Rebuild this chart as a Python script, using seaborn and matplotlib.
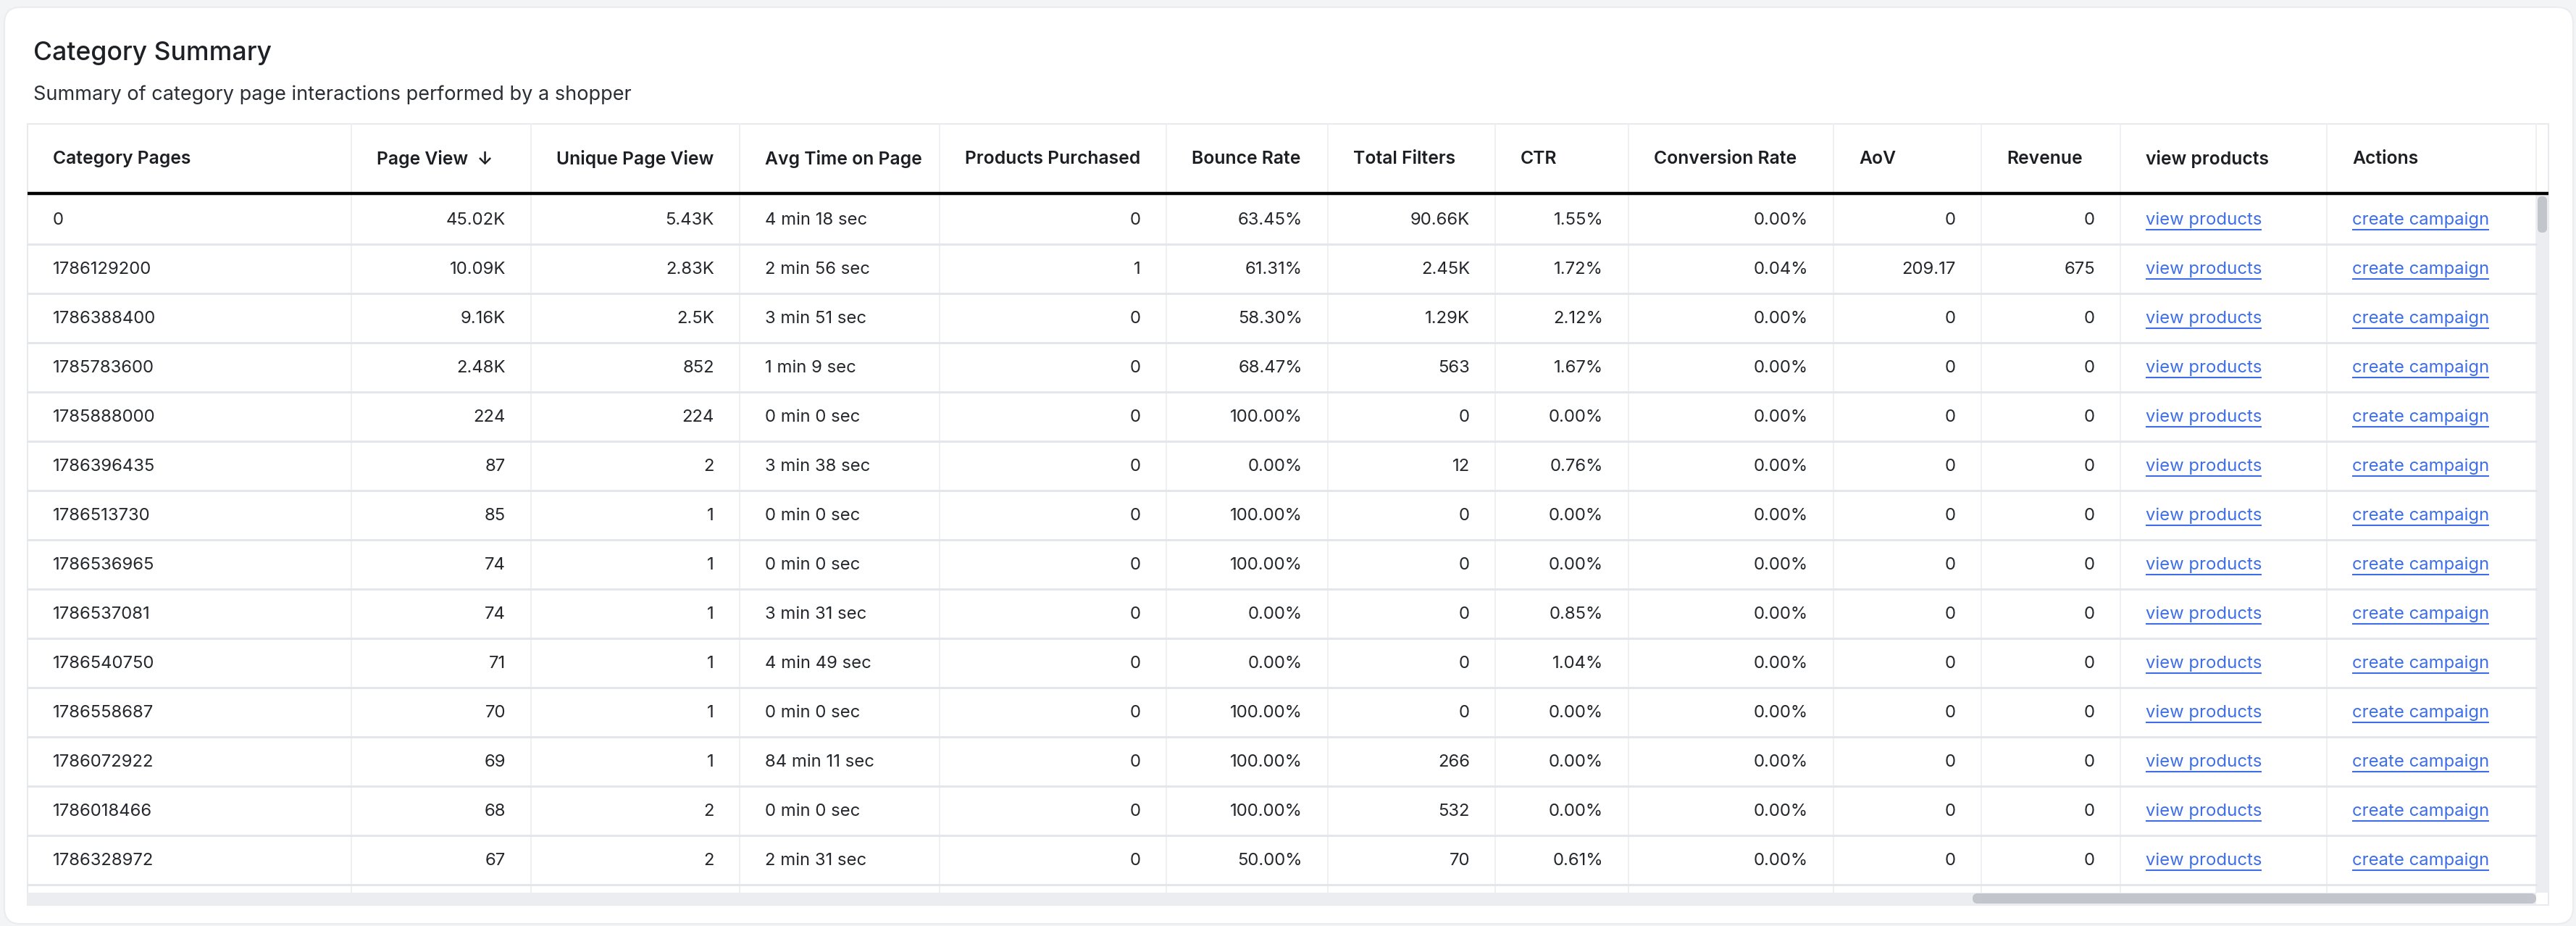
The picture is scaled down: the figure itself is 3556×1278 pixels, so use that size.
import matplotlib
matplotlib.use("Agg")
import matplotlib.pyplot as plt
from matplotlib.patches import FancyBboxPatch, Rectangle
import seaborn as sns

# ---------------- data ----------------
category_pages = ["0", "1786129200", "1786388400", "1785783600", "1785888000",
                  "1786396435", "1786513730", "1786536965", "1786537081", "1786540750",
                  "1786558687", "1786072922", "1786018466", "1786328972"]
page_view = [45020, 10090, 9160, 2480, 224, 87, 85, 74, 74, 71, 70, 69, 68, 67]
unique_page_view = [5430, 2830, 2500, 852, 224, 2, 1, 1, 1, 1, 1, 1, 2, 2]
avg_time_sec = [258, 176, 231, 69, 0, 218, 0, 0, 211, 289, 0, 5051, 0, 151]
products_purchased = [0, 1, 0, 0, 0, 0, 0, 0, 0, 0, 0, 0, 0, 0]
bounce_rate = [63.45, 61.31, 58.30, 68.47, 100.0, 0.0, 100.0, 100.0, 0.0, 0.0, 100.0, 100.0, 100.0, 50.0]
total_filters = [90660, 2450, 1290, 563, 0, 12, 0, 0, 0, 0, 0, 266, 532, 70]
ctr = [1.55, 1.72, 2.12, 1.67, 0.0, 0.76, 0.0, 0.0, 0.85, 1.04, 0.0, 0.0, 0.0, 0.61]
conversion_rate = [0.0, 0.04, 0.0, 0.0, 0.0, 0.0, 0.0, 0.0, 0.0, 0.0, 0.0, 0.0, 0.0, 0.0]
aov = [0, 209.17, 0, 0, 0, 0, 0, 0, 0, 0, 0, 0, 0, 0]
revenue = [0, 675, 0, 0, 0, 0, 0, 0, 0, 0, 0, 0, 0, 0]
headers = ["Category Pages", "Page View  \u2193", "Unique Page View", "Avg Time on Page",
           "Products Purchased", "Bounce Rate", "Total Filters", "CTR", "Conversion Rate",
           "AoV", "Revenue", "view products", "Actions"]
link_view = "view products"
link_action = "create campaign"
title = "Category Summary"
subtitle = "Summary of category page interactions performed by a shopper"


def fmt_k(v):
    if v >= 1000:
        s = f"{v / 1000:.2f}".rstrip("0").rstrip(".")
        return s + "K"
    return f"{v:g}"


def fmt_pct(v):
    return f"{v:.2f}%"


def fmt_time(s):
    return f"{s // 60} min {s % 60} sec"


def fmt_num(v):
    return f"{v:g}"


columns = [
    ([str(c) for c in category_pages], "left", "text"),
    ([fmt_k(v) for v in page_view], "right", "text"),
    ([fmt_k(v) for v in unique_page_view], "right", "text"),
    ([fmt_time(v) for v in avg_time_sec], "left", "text"),
    ([fmt_num(v) for v in products_purchased], "right", "text"),
    ([fmt_pct(v) for v in bounce_rate], "right", "text"),
    ([fmt_k(v) for v in total_filters], "right", "text"),
    ([fmt_pct(v) for v in ctr], "right", "text"),
    ([fmt_pct(v) for v in conversion_rate], "right", "text"),
    ([fmt_num(v) for v in aov], "right", "text"),
    ([fmt_num(v) for v in revenue], "right", "text"),
    ([link_view] * len(category_pages), "left", "link"),
    ([link_action] * len(category_pages), "left", "link"),
]

# ---------------- layout / style ----------------
W, H = 3556, 1278
col_edges = [38, 485, 733, 1021, 1297, 1610, 1833, 2064, 2248, 2531, 2735, 2927, 3212, 3501]
table_right = 3518
table_top = 171
header_bottom = 266
row_top0 = 269
row_h = 68
body_bottom = 1232
hscroll_bottom = 1249
pad = 35

sns.set_theme(style="white")
FONT = ["Inter", "DejaVu Sans"]
plt.rcParams["font.family"] = FONT

TEXT = "#24272c"
HEAD = "#1b1e22"
LINK = "#3d6ee8"
GRID_ROW = "#e3e6eb"
GRID_COL = "#eceef2"
BODY_FS = 17.2
HEAD_FS = 17.8

fig = plt.figure(figsize=(W / 100, H / 100), dpi=100, facecolor="#f3f4f6")
ax = fig.add_axes([0, 0, 1, 1])
ax.set_xlim(0, W)
ax.set_ylim(H, 0)
ax.axis("off")

# card
ax.add_patch(FancyBboxPatch((6, 10), 3546, 1265, boxstyle="round,pad=0,rounding_size=22",
                            facecolor="white", edgecolor="#eaecef", linewidth=1.5, zorder=0))

ax.text(46, 74, title, fontsize=25.6, color="#1d2025", va="center", ha="left", fontweight="medium")
ax.text(46, 131, subtitle, fontsize=19.5, color="#2b2f35", va="center", ha="left")

# table frame
ax.add_patch(Rectangle((col_edges[0], table_top), table_right - col_edges[0], hscroll_bottom - table_top,
                       facecolor="white", edgecolor="#e8eaee", linewidth=1.5, zorder=1))

# vertical scroll track
ax.add_patch(Rectangle((col_edges[-1], row_top0), table_right - col_edges[-1], body_bottom - row_top0,
                       facecolor="#ebedf0", edgecolor="none", zorder=2))
ax.add_patch(FancyBboxPatch((col_edges[-1] + 2, row_top0 + 2), table_right - col_edges[-1] - 4, 50,
                            boxstyle="round,pad=0,rounding_size=6",
                            facecolor="#c2c5cc", edgecolor="none", zorder=3))

# column separators
for x in col_edges[1:]:
    ax.plot([x, x], [table_top, body_bottom], color=GRID_COL, linewidth=1.2, zorder=2)

# row separators
n = len(category_pages)
for i in range(1, n + 1):
    y = row_top0 + i * row_h
    ax.plot([col_edges[0], col_edges[-1]], [y, y], color=GRID_ROW, linewidth=2.2, zorder=2)

# header thick line
ax.plot([col_edges[0], table_right], [header_bottom + 1, header_bottom + 1], color="black",
        linewidth=3.2, zorder=4, solid_capstyle="butt")

# horizontal scrollbar
ax.add_patch(Rectangle((col_edges[0], body_bottom), col_edges[-1] - col_edges[0], hscroll_bottom - body_bottom,
                       facecolor="#ebedf0", edgecolor="none", zorder=3))
ax.add_patch(FancyBboxPatch((2723, body_bottom + 1), col_edges[-1] - 2723, hscroll_bottom - body_bottom - 3,
                            boxstyle="round,pad=0,rounding_size=7",
                            facecolor="#c2c5cc", edgecolor="none", zorder=4))

# headers
header_y = (table_top + header_bottom) / 2 + 1
for j, h in enumerate(headers):
    ax.text(col_edges[j] + pad, header_y, h, fontsize=HEAD_FS, fontweight="semibold",
            color=HEAD, va="center", ha="left", zorder=5)

# body
link_texts = []
for j, (vals, align, kind) in enumerate(columns):
    for i, v in enumerate(vals):
        y = row_top0 + i * row_h + row_h / 2 + 0.5
        if align == "left":
            x, ha = col_edges[j] + pad, "left"
        else:
            x, ha = col_edges[j + 1] - pad, "right"
        color = LINK if kind == "link" else TEXT
        t = ax.text(x, y, v, fontsize=BODY_FS, color=color, va="center", ha=ha, zorder=5)
        if kind == "link":
            link_texts.append((t, y))

fig.canvas.draw()
renderer = fig.canvas.get_renderer()
inv = ax.transData.inverted()
for t, y in link_texts:
    bb = t.get_window_extent(renderer)
    x0, _ = inv.transform((bb.x0, bb.y0))
    x1, _ = inv.transform((bb.x1, bb.y0))
    ax.plot([x0, x1], [y + 13, y + 13], color=LINK, linewidth=1.5, zorder=5, solid_capstyle="butt")

fig.savefig("out.png", dpi=100, facecolor=fig.get_facecolor())
